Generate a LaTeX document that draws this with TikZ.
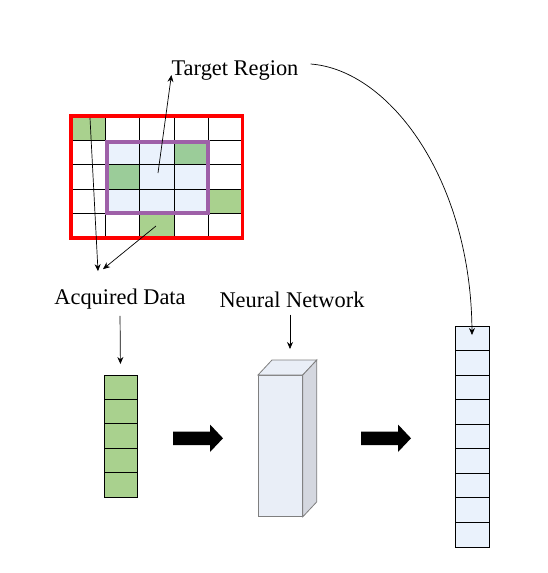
\documentclass[tikz,border=0pt]{standalone}
\usepackage{fontspec}
\setmainfont{Liberation Serif}
\usetikzlibrary{arrows.meta}

\definecolor{cellgreen}{RGB}{169,209,142}
\definecolor{cellgreendk}{RGB}{155,204,153}
\definecolor{celllblue}{RGB}{234,242,252}
\definecolor{regionpurple}{RGB}{158,96,168}
\definecolor{nnfront}{RGB}{233,238,247}
\definecolor{nnside}{RGB}{212,215,223}
\definecolor{nnedge}{RGB}{127,127,127}

\begin{document}
\begin{tikzpicture}[x=1pt,y=-1pt,>={Stealth[length=7pt,width=6pt]},
	lbl/.style={font=\fontsize{22.4}{26}\selectfont,inner sep=2pt},
	cell/.style={draw,line width=0.8pt,minimum width=33pt,minimum height=24.4pt,
		inner sep=0pt,outer sep=0pt,anchor=north west},
	link/.style={->,line width=0.7pt}]
		\useasboundingbox (0,0) rectangle (547,573);

		% sampling grid
		\fill[celllblue] (105.3,140.4) rectangle (208.2,213.6);
		\fill[cellgreen] (71,116) rectangle (105.3,140.4);
		\fill[cellgreendk] (173.9,140.4) rectangle (208.2,164.8);
		\fill[cellgreendk] (105.3,164.8) rectangle (139.6,189.2);
		\fill[cellgreen] (208.2,189.2) rectangle (242.5,213.6);
		\fill[cellgreen] (139.6,213.6) rectangle (173.9,238);
		\foreach \i in {1,...,4} {
			\draw[line width=0.8pt] ({71+34.3*\i},116) -- ({71+34.3*\i},238);
			\draw[line width=0.8pt] (71,{116+24.4*\i}) -- (242.5,{116+24.4*\i});
		}
		\draw[red,line width=3.5pt] (71,116) rectangle (242.5,238);
		\draw[regionpurple,line width=4pt] (107,142.2) rectangle (207.5,213);

		\coordinate (g-0-0) at (90,118);
		\coordinate (g-2-2) at (158,173);
		\coordinate (g-2-4) at (156,226);

		% labels
		\node[lbl] (target) at (235,71) {Target Region};
		\node[lbl] (acq) at (120,299.5) {Acquired Data};
		\node[lbl] (nnlbl) at (292,299.5) {Neural Network};

		% columns
		\foreach \i in {0,...,4}
			\node[cell,fill=cellgreen] (in-\i) at (104,{375+24.4*\i}) {};
		\foreach \i in {0,...,8}
			\node[cell,fill=celllblue,minimum width=34pt,minimum height=24.55pt]
				(out-\i) at (455,{326+24.55*\i}) {};

		% network block
		\node[draw=nnedge,fill=nnfront,line width=0.8pt,minimum width=44pt,
			minimum height=141pt,inner sep=0pt,anchor=north west] (nn) at (258,375) {};
		\draw[nnedge,fill=nnfront,line width=0.8pt] (nn.north west) -- ++(14,-15)
			-- ([shift={(14,-15)}]nn.north east) -- (nn.north east) -- cycle;
		\draw[nnedge,fill=nnside,line width=0.8pt] (nn.north east) -- ++(14,-15)
			-- ([shift={(14,-15)}]nn.south east) -- (nn.south east) -- cycle;

		% block arrows
		\foreach \bx in {173,361}
			\fill (\bx,431.5) -- ({\bx+37},431.5) -- ({\bx+37},424.5) -- ({\bx+50},438.3)
				-- ({\bx+37},452) -- ({\bx+37},445) -- (\bx,445) -- cycle;

		% connectors
		\coordinate (nn-in) at (290,349);
		\draw[link] (g-2-2) -- ([shift={(2,-8)}]target.south west);
		\draw[link] (g-0-0) -- ([shift={(-22,-16)}]acq.north);
		\draw[link] (g-2-4) -- ([shift={(-17,-18)}]acq.north);
		\draw[link,shorten <=4pt,shorten >=11pt] (acq.south) -- (in-0.north);
		\draw[link,shorten <=5pt] (nnlbl.south -| nn-in) -- (nn-in);
		\draw[link] ([shift={(10,-7)}]target.east) .. controls (390,70) and (471,180)
			.. ([yshift=-9]out-0.north);

		\end{tikzpicture}
\end{document}
